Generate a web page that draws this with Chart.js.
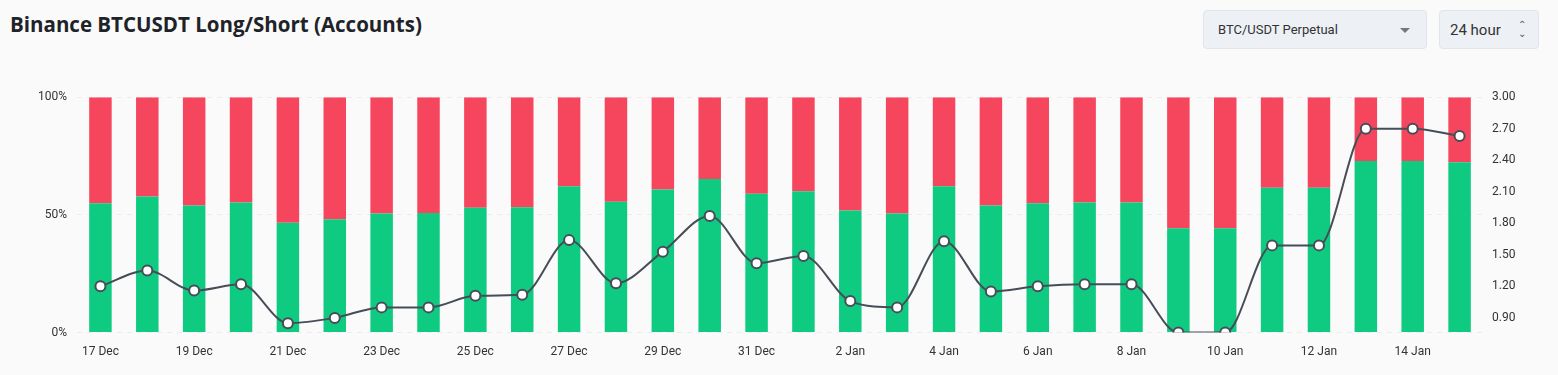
<!DOCTYPE html>
<html lang="en">
<head>
    <meta charset="UTF-8">
    <title>Binance BTCUSDT Long/Short (Accounts)</title>
    <script src="https://cdn.jsdelivr.net/npm/chart.js"></script>
    <style>
        body {
            margin: 0;
            width: 1558px;
            height: 375px;
            background-color: #fafafa;
            font-family: 'Open Sans', 'Noto Sans', sans-serif;
            position: relative;
            overflow: hidden;
        }
        .title {
            position: absolute;
            left: 10px;
            top: 10px;
            margin: 0;
            font-size: 20.5px;
            font-weight: 700;
            color: #1e2329;
        }
        .select {
            position: absolute;
            top: 10px;
            height: 37px;
            background-color: #edf1f5;
            border: 1px solid #dfe5eb;
            border-radius: 4px;
            font-family: Roboto, sans-serif;
            color: #333;
            display: flex;
            align-items: center;
            box-sizing: content-box;
        }
        .pair {
            left: 1203px;
            width: 222px;
            font-size: 13px;
        }
        .pair span { margin-left: 14px; }
        .pair .arrow {
            position: absolute;
            right: 16px;
            top: 17px;
            width: 0;
            height: 0;
            border-left: 5px solid transparent;
            border-right: 5px solid transparent;
            border-top: 5px solid #777;
        }
        .period {
            left: 1439px;
            width: 98px;
            font-size: 15px;
        }
        .period span { margin-left: 10px; }
        .period .chev {
            position: absolute;
            right: 12px;
            top: 9px;
            font-size: 10px;
            line-height: 9px;
            color: #555;
            text-align: center;
        }
        .chart-box {
            position: absolute;
            left: 0;
            top: 80px;
            width: 1558px;
            height: 283px;
        }
    </style>
</head>
<body>
    <h1 class="title">Binance BTCUSDT Long/Short (Accounts)</h1>
    <div class="select pair"><span>BTC/USDT Perpetual</span><div class="arrow"></div></div>
    <div class="select period"><span>24 hour</span><div class="chev">&#8963;<br>&#8964;</div></div>
    <div class="chart-box">
        <canvas id="lsChart"></canvas>
    </div>

    <script>
        const days = ['17 Dec', '18 Dec', '19 Dec', '20 Dec', '21 Dec', '22 Dec', '23 Dec', '24 Dec', '25 Dec', '26 Dec',
            '27 Dec', '28 Dec', '29 Dec', '30 Dec', '31 Dec', '1 Jan', '2 Jan', '3 Jan', '4 Jan', '5 Jan',
            '6 Jan', '7 Jan', '8 Jan', '9 Jan', '10 Jan', '11 Jan', '12 Jan', '13 Jan', '14 Jan', '15 Jan'];

        // long accounts %, short is the rest
        const longPct = [55.0, 57.8, 54.0, 55.3, 46.7, 48.1, 50.6, 50.8, 53.0, 53.2,
            62.2, 55.6, 60.8, 65.3, 59.0, 60.0, 51.9, 50.6, 62.2, 54.0,
            54.9, 55.3, 55.3, 44.3, 44.3, 61.5, 61.5, 72.9, 72.9, 72.4];
        const shortPct = longPct.map(v => +(100 - v).toFixed(1));

        const ratio = [1.20, 1.35, 1.16, 1.22, 0.85, 0.90, 1.00, 1.00, 1.11, 1.12,
            1.64, 1.23, 1.53, 1.87, 1.42, 1.49, 1.06, 1.00, 1.63, 1.15,
            1.20, 1.22, 1.22, 0.76, 0.76, 1.59, 1.59, 2.70, 2.70, 2.63];

        const pctTicks = [0, 50, 100];
        const ratioTicks = [0.90, 1.20, 1.50, 1.80, 2.10, 2.40, 2.70, 3.00];

        const tickFont = { family: 'Roboto, sans-serif', size: 12 };

        new Chart(document.getElementById('lsChart'), {
            data: {
                labels: days,
                datasets: [
                    {
                        type: 'line',
                        label: 'Long/Short Ratio',
                        data: ratio,
                        yAxisID: 'y1',
                        borderColor: '#474d57',
                        borderWidth: 2,
                        cubicInterpolationMode: 'monotone',
                        pointRadius: 5,
                        pointBorderWidth: 2,
                        pointBackgroundColor: '#ffffff',
                        pointBorderColor: '#474d57',
                        order: 0
                    },
                    {
                        type: 'bar',
                        label: 'Long',
                        data: longPct,
                        yAxisID: 'y',
                        backgroundColor: '#0ecb81',
                        stack: 's',
                        barPercentage: 0.48,
                        categoryPercentage: 1,
                        order: 1
                    },
                    {
                        type: 'bar',
                        label: 'Short',
                        data: shortPct,
                        yAxisID: 'y',
                        backgroundColor: '#f6465d',
                        stack: 's',
                        barPercentage: 0.48,
                        categoryPercentage: 1,
                        order: 1
                    }
                ]
            },
            options: {
                responsive: true,
                maintainAspectRatio: false,
                animation: false,
                layout: { padding: { top: 7, bottom: 0 } },
                plugins: {
                    legend: { display: false },
                    tooltip: { enabled: false }
                },
                scales: {
                    x: {
                        stacked: true,
                        grid: { display: false },
                        border: { display: false },
                        ticks: {
                            font: tickFont,
                            color: '#333',
                            maxRotation: 0,
                            autoSkip: true,
                            autoSkipPadding: 40,
                            padding: 4
                        }
                    },
                    y: {
                        stacked: true,
                        position: 'left',
                        min: 0,
                        max: 100,
                        afterBuildTicks: axis => { axis.ticks = pctTicks.map(v => ({ value: v })); },
                        afterFit: axis => { axis.width = 77; },
                        grid: { color: '#ececec', drawTicks: false },
                        border: { display: false, dash: [5, 5] },
                        ticks: {
                            font: tickFont,
                            color: '#333',
                            padding: 10,
                            callback: v => v + '%'
                        }
                    },
                    y1: {
                        position: 'right',
                        min: 0.76,
                        max: 3.0,
                        afterBuildTicks: axis => { axis.ticks = ratioTicks.map(v => ({ value: v })); },
                        afterFit: axis => { axis.width = 75; },
                        grid: { display: false, drawTicks: false },
                        border: { display: false },
                        ticks: {
                            font: tickFont,
                            color: '#333',
                            padding: 9,
                            callback: v => v.toFixed(2)
                        }
                    }
                }
            }
        });
    </script>
</body>
</html>
